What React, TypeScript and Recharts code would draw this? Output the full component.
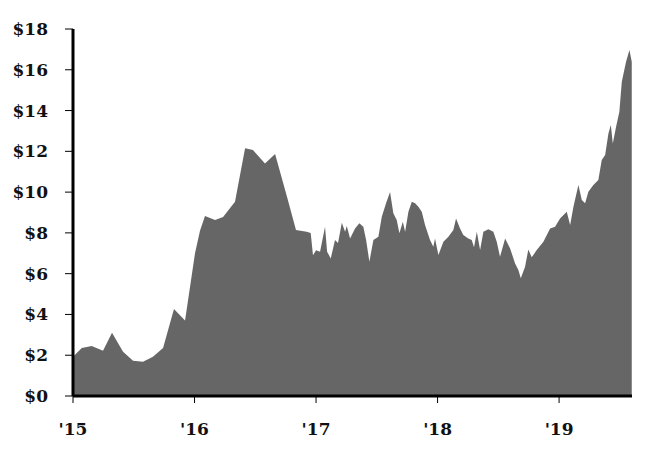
import { AreaChart, Area, XAxis, YAxis } from 'recharts';

// time as fractional year, price in dollars
const dates = [
  2015.0, 2015.072, 2015.154, 2015.247, 2015.321, 2015.412, 2015.494, 2015.576, 2015.658, 2015.741,
  2015.831, 2015.922, 2016.004, 2016.045, 2016.086, 2016.169, 2016.235, 2016.333, 2016.416, 2016.481,
  2016.58, 2016.663, 2016.761, 2016.835, 2016.923, 2016.956, 2016.975, 2017.0, 2017.033, 2017.074,
  2017.091, 2017.121, 2017.156, 2017.181, 2017.212, 2017.239, 2017.253, 2017.28, 2017.321, 2017.356,
  2017.389, 2017.412, 2017.439, 2017.472, 2017.513, 2017.541, 2017.576, 2017.609, 2017.636, 2017.664,
  2017.686, 2017.714, 2017.733, 2017.76, 2017.788, 2017.815, 2017.842, 2017.87, 2017.897, 2017.938,
  2017.965, 2017.979, 2018.007, 2018.048, 2018.089, 2018.13, 2018.152, 2018.185, 2018.212, 2018.253,
  2018.281, 2018.3, 2018.323, 2018.35, 2018.377, 2018.418, 2018.459, 2018.487, 2018.514, 2018.556,
  2018.597, 2018.638, 2018.665, 2018.685, 2018.72, 2018.747, 2018.775, 2018.816, 2018.871, 2018.926,
  2018.967, 2019.008, 2019.063, 2019.091, 2019.118, 2019.159, 2019.187, 2019.214, 2019.241, 2019.282,
  2019.323, 2019.351, 2019.379, 2019.406, 2019.426, 2019.442, 2019.469, 2019.496, 2019.516, 2019.551,
  2019.579, 2019.598,
];

const prices = [
  1.93, 2.35, 2.45, 2.22, 3.1, 2.17, 1.73, 1.68, 1.93, 2.35,
  4.27, 3.7, 7.0, 8.1, 8.83, 8.63, 8.78, 9.53, 12.15, 12.06,
  11.4, 11.87, 9.77, 8.14, 8.06, 8.0, 6.9, 7.15, 7.08, 8.3,
  7.08, 6.75, 7.65, 7.5, 8.5, 8.06, 8.34, 7.73, 8.22, 8.47,
  8.3, 7.65, 6.59, 7.65, 7.81, 8.79, 9.45, 10.0, 8.96, 8.63,
  7.98, 8.55, 8.06, 9.04, 9.53, 9.45, 9.28, 9.04, 8.39, 7.65,
  7.32, 7.73, 6.91, 7.57, 7.81, 8.14, 8.71, 8.22, 7.9, 7.73,
  7.65, 7.29, 8.06, 7.16, 8.06, 8.18, 8.06, 7.57, 6.83, 7.73,
  7.24, 6.5, 6.18, 5.77, 6.34, 7.19, 6.8, 7.16, 7.57, 8.22,
  8.3, 8.71, 9.04, 8.39, 9.28, 10.35, 9.61, 9.45, 10.02, 10.35,
  10.59, 11.57, 11.82, 12.88, 13.29, 12.39, 13.21, 13.94, 15.41, 16.39,
  16.97, 16.39,
];

const yearTicks = [2015, 2016, 2017, 2018, 2019];
const priceTicks = [0, 2, 4, 6, 8, 10, 12, 14, 16, 18];

const data = dates.map((t, i) => ({ t, price: prices[i] }));

const tickFont = {
  fontFamily: '"DejaVu Serif", serif',
  fontWeight: 700,
  fontSize: 17,
  fill: '#111',
};

export default function App() {
  return (
    <div style={{ position: 'absolute', left: 0, top: 0 }}>
      <AreaChart
        width={649}
        height={461}
        data={data}
        margin={{ top: 29, right: 17, bottom: 25, left: 13 }}
      >
        <XAxis
          dataKey="t"
          type="number"
          domain={[2015, 2019.6]}
          ticks={yearTicks}
          tickFormatter={(v: number) => "'" + String(v).slice(2)}
          tick={tickFont}
          stroke="#000"
          axisLine={{ strokeWidth: 3 }}
          tickSize={7}
          tickMargin={20}
          height={40}
        />
        <YAxis
          domain={[0, 18]}
          ticks={priceTicks}
          tickFormatter={(v: number) => '$' + v}
          tick={tickFont}
          stroke="#000"
          axisLine={{ strokeWidth: 3 }}
          tickSize={8}
          tickMargin={17}
          width={60}
        />
        {/* black at 60% opacity on white gives the #666 grey of the reference */}
        <Area
          type="linear"
          dataKey="price"
          stroke="none"
          fill="#000"
          isAnimationActive={false}
        />
      </AreaChart>
    </div>
  );
}
